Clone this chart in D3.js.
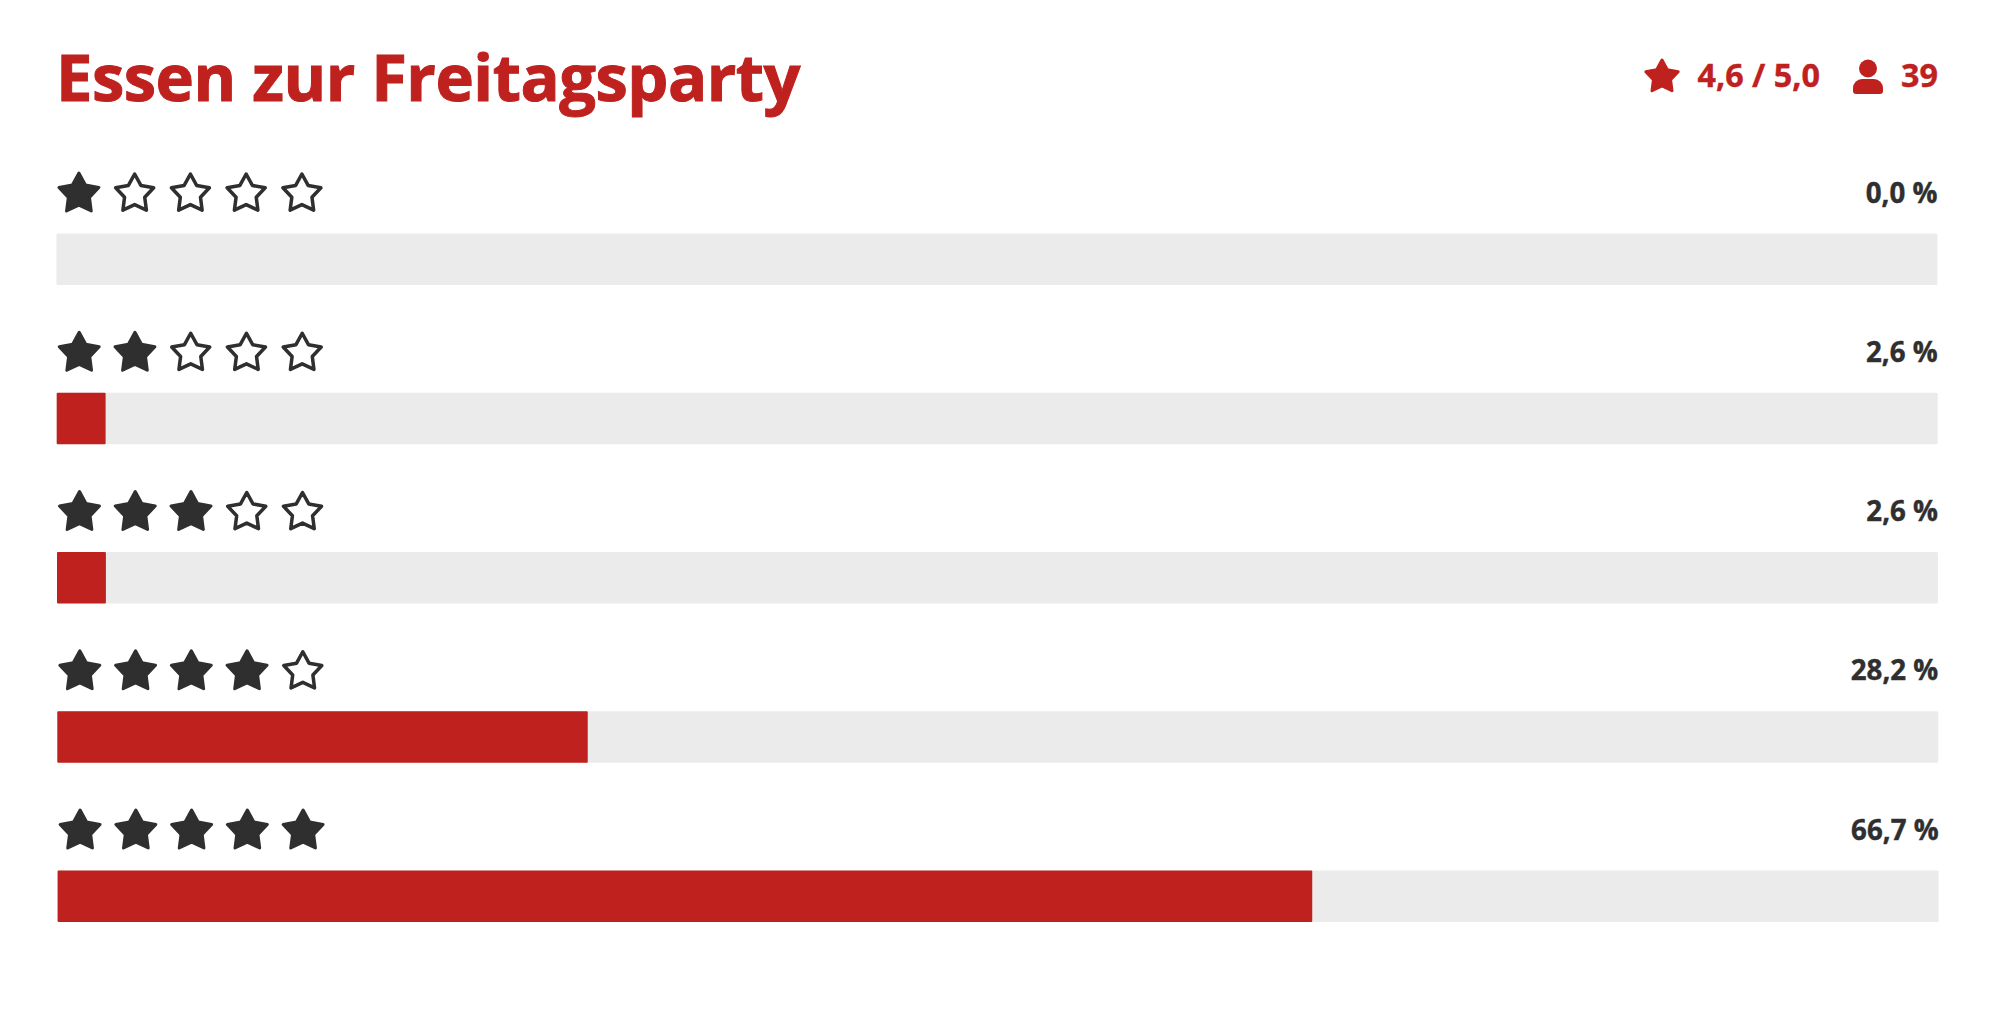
<!DOCTYPE html>
<html>
<head>
<meta charset="utf-8">
<script src="https://cdn.jsdelivr.net/npm/d3@7"></script>
<style>
  html, body { margin: 0; background: #fff; }
  text { font-family: "Open Sans", sans-serif; font-weight: 700; }
</style>
</head>
<body>
<div id="chart"></div>
<script>
const titleText = "Essen zur Freitagsparty";
const averageLabel = "4,6 / 5,0";
const votesLabel = "39";

const ratings = [1, 2, 3, 4, 5];
const shares = [0.0, 2.6, 2.6, 28.2, 66.7];
const shareLabels = ["0,0 %", "2,6 %", "2,6 %", "28,2 %", "66,7 %"];

const width = 2000;
const height = 1022;
const red = "#bf211e";
const dark = "#2f2f2f";
const track = "#ebebeb";

const barLeft = 57;
const barRight = 1938;
const barHeight = 51.5;

const svg = d3.select("#chart")
  .append("svg")
  .attr("width", width)
  .attr("height", height)
  .style("display", "block");

const x = d3.scaleLinear().domain([0, 100]).range([0, barRight - barLeft]);
const y = d3.scalePoint().domain(ratings).range([233.5, 870.5]);
const starX = d3.scalePoint().domain([1, 2, 3, 4, 5]).range([0, 223]);

// star outline, corners get rounded by the stroke
function starPath(r) {
  const pts = d3.range(10).map(i => [i * Math.PI / 5, i % 2 ? r * 0.53 : r]);
  return d3.lineRadial().curve(d3.curveLinearClosed)(pts);
}

svg.append("text")
  .attr("x", 56)
  .attr("y", 101)
  .attr("font-size", 65)
  .attr("letter-spacing", -0.47)
  .attr("fill", red)
  .attr("stroke", red)
  .attr("stroke-width", 1)
  .text(titleText);

// header, right side
svg.append("path")
  .attr("d", starPath(17))
  .attr("transform", "translate(1662,77)")
  .attr("fill", red)
  .attr("stroke", red)
  .attr("stroke-width", 3)
  .attr("stroke-linejoin", "round");

svg.append("text")
  .attr("x", 1820)
  .attr("y", 87)
  .attr("text-anchor", "end")
  .attr("font-size", 32.3)
  .attr("fill", red)
  .attr("stroke", red)
  .attr("stroke-width", 0.4)
  .text(averageLabel);

const person = svg.append("g").attr("transform", "translate(1868,76)").attr("fill", red);
person.append("circle").attr("cy", -7.5).attr("r", 9);
person.append("path")
  .attr("d", "M-15,15 v-3 a9,9 0 0 1 9,-9 h12 a9,9 0 0 1 9,9 v3 a3,3 0 0 1 -3,3 h-24 a3,3 0 0 1 -3,-3 z");

svg.append("text")
  .attr("x", 1938)
  .attr("y", 87)
  .attr("text-anchor", "end")
  .attr("font-size", 32.3)
  .attr("fill", red)
  .attr("stroke", red)
  .attr("stroke-width", 0.4)
  .text(votesLabel);

// one row per rating
const rows = svg.selectAll("g.row")
  .data(ratings)
  .enter()
  .append("g")
  .attr("class", "row")
  .attr("transform", (d, i) => `translate(${barLeft + (i - 2) * 0.3},${y(d)})`);

rows.append("rect")
  .attr("width", x(100))
  .attr("height", barHeight)
  .attr("rx", 1.5)
  .attr("fill", track);

rows.append("rect")
  .attr("width", (d, i) => x(shares[i]))
  .attr("height", barHeight)
  .attr("rx", 1)
  .attr("fill", red);

rows.append("text")
  .attr("x", x(100))
  .attr("y", -31)
  .attr("text-anchor", "end")
  .attr("font-size", 27.7)
  .attr("fill", dark)
  .attr("stroke", dark)
  .attr("stroke-width", 0.4)
  .text((d, i) => shareLabels[i]);

rows.each(function(rating) {
  d3.select(this).selectAll("path.star")
    .data(starX.domain())
    .enter()
    .append("path")
    .attr("class", "star")
    .attr("d", d => starPath(d <= rating ? 21 : 20))
    .attr("transform", d => `translate(${22.5 + starX(d)},-39.5)`)
    .attr("fill", d => d <= rating ? dark : "#fff")
    .attr("stroke", dark)
    .attr("stroke-width", d => d <= rating ? 3 : 3.5)
    .attr("stroke-linejoin", "round");
});
</script>
</body>
</html>
